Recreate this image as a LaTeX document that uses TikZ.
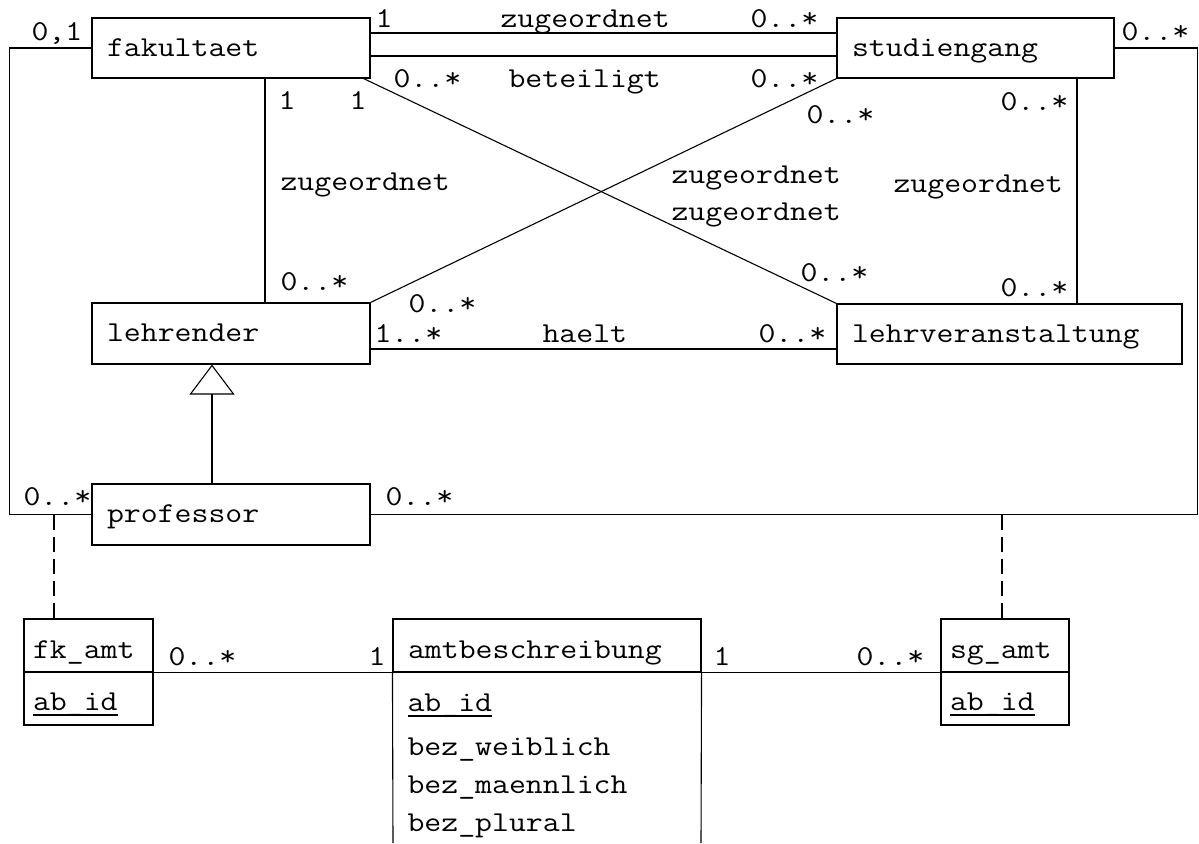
\documentclass[tikz,border=0pt]{standalone}
\usepackage{fontspec}
\setmainfont{Latin Modern Mono}[FakeStretch=1.14]
\usetikzlibrary{arrows.meta}
\newcommand\myul[1]{\setbox0\hbox{#1}\rlap{\rule[-3pt]{\wd0}{1pt}}\box0}
\begin{document}
\begin{tikzpicture}[x=0.5pt,y=-0.5pt,line width=0.55pt,
  every node/.style={font=\fontsize{14.41}{17}\selectfont},
  cls/.style={draw,anchor=center,minimum height=30pt,text height=8pt,text depth=0pt,inner xsep=7.5pt,align=left},
  tblh/.style={draw,anchor=center,minimum height=26.5pt,text height=13pt,text depth=0pt,inner xsep=4.5pt,align=left},
  tblb/.style={draw,anchor=center,minimum height=26.5pt,text height=11.5pt,text depth=0pt,inner xsep=4.5pt,align=left},
  lbl/.style={anchor=base west,inner sep=0pt},
  dashline/.style={dash pattern=on 7.5pt off 3.5pt},
  gen/.style={-{Triangle[open,length=15pt,width=22.5pt]}}]
\useasboundingbox (0,0) rectangle (1199,843);
% classes
\node[cls,text width=124pt] (fak) at (231,48) {fakultaet};
\node[cls,text width=123.5pt] (stud) at (975.5,48) {studiengang};
\node[cls,text width=124pt,minimum height=30.5pt] (lehr) at (231,333.5) {lehrender};
\node[cls,text width=157.5pt] (lv) at (1009.5,334) {lehrveranstaltung};
\node[cls,text width=124pt,minimum height=30.5pt] (prof) at (231,514.5) {professor};
% tables
\node[tblh,text width=55.5pt] (fkh) at (88.5,645.5) {fk\_amt};
\node[tblb,text width=55.5pt] (fkb) at (88.5,698.5) {\myul{ab\_id}};
\node[tblh,text width=55pt] (sgh) at (1005,645.5) {sg\_amt};
\node[tblb,text width=55pt] (sgb) at (1005,698.5) {\myul{ab\_id}};
\node[tblh,text width=139pt,inner xsep=7.5pt] (amth) at (547,645.5) {amtbeschreibung};
\coordinate (amtbl) at (393,843);
\coordinate (amtbr) at (701,843);
\draw (amth.south west) -- (amtbl);
\draw (amth.south east) -- (amtbr);
\node[lbl] (a1) at (407,711) {\myul{ab\_id}};
\node[lbl] (a2) at (407,755) {bez\_weiblich};
\node[lbl] (a3) at (407,793) {bez\_maennlich};
\node[lbl] (a4) at (407,831) {bez\_plural};
% connectors
\draw (fak.west) -- ++(-82,0) |- (prof.west);
\draw (stud.east) -- ++(83,0) |- (prof.east);
\draw (fak.east |- 0,33) -- (stud.west |- 0,33);
\draw (fak.east |- 0,56) -- (stud.west |- 0,56);
\draw (fak.south -| 265,0) -- (lehr.north -| 265,0);
\draw ([xshift=-3.5pt]fak.south east) -- (lv.north west);
\draw (stud.south west) -- (lehr.north east);
\draw (stud.south -| 1077,0) -- (lv.north -| 1077,0);
\draw (lehr.east |- 0,349) -- (lv.west |- 0,349);
\draw[gen] (prof.north -| 212,0) -- (lehr.south -| 212,0);
\coordinate (dl) at (54,514.5);
\coordinate (dr) at (1002,514.5);
\draw[dashline] (dl) -- (fkh.north -| dl);
\draw[dashline] (dr) -- (sgh.north -| dr);
\draw (fkh.south east) -- (amth.south west);
\draw (amth.south east) -- (sgh.south west);
% multiplicities and names
\node[lbl] at (31,40) {0,1};
\node[lbl] at (375,27) {1};
\node[lbl] at (500,27) {zugeordnet};
\node[lbl] at (750,27) {0..*};
\node[lbl] at (393,87) {0..*};
\node[lbl] at (508,87) {beteiligt};
\node[lbl] at (750,87) {0..*};
\node[lbl] at (1121,40) {0..*};
\node[lbl] at (278,109) {1};
\node[lbl] at (349,109) {1};
\node[lbl] at (280,190) {zugeordnet};
\node[lbl] at (280,290) {0..*};
\node[lbl] at (408,312) {0..*};
\node[lbl] at (806,123) {0..*};
\node[lbl] at (1000,110) {0..*};
\node[lbl] at (671,183) {zugeordnet};
\node[lbl] at (671,220) {zugeordnet};
\node[lbl] at (893,192) {zugeordnet};
\node[lbl] at (800,281) {0..*};
\node[lbl] at (1000,296) {0..*};
\node[lbl] at (374,342) {1..*};
\node[lbl] at (542,342) {haelt};
\node[lbl] at (758,342) {0..*};
\node[lbl] at (23,505) {0..*};
\node[lbl] at (385,505) {0..*};
\node[lbl] at (168,665) {0..*};
\node[lbl] at (368,665) {1};
\node[lbl] at (713,665) {1};
\node[lbl] at (856,665) {0..*};
\end{tikzpicture}
\end{document}
